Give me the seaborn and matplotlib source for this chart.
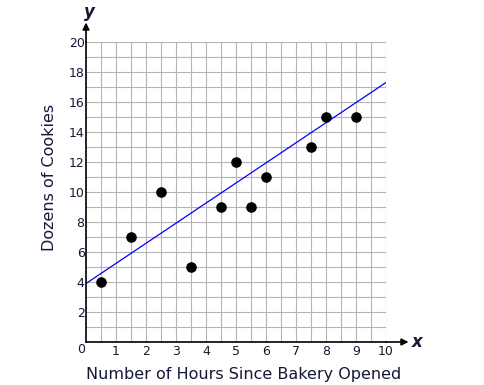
import matplotlib
matplotlib.use("Agg")
import matplotlib.pyplot as plt
import seaborn as sns
import numpy as np
import pandas as pd

# data
hours = [0.5, 1.5, 2.5, 3.5, 4.5, 5, 5.5, 6, 7.5, 8, 9]
dozens = [4, 7, 10, 5, 9, 12, 9, 11, 13, 15, 15]
fit_x = [0, 10]
fit_y = [3.9, 17.3]
x_ticks = [1, 2, 3, 4, 5, 6, 7, 8, 9, 10]
y_ticks = [2, 4, 6, 8, 10, 12, 14, 16, 18, 20]

sns.set_style("white")
plt.rcParams["font.family"] = ["DejaVu Sans"]

text_color = "#141836"

fig = plt.figure(figsize=(4.84, 3.85), dpi=100)
ax = fig.add_axes([86 / 484, 43 / 385, 300 / 484, 300 / 385])

df = pd.DataFrame({"hours": hours, "dozens": dozens})

# grid: one line every half hour and every dozen
for gx in np.arange(0.5, 10.01, 0.5):
    ax.axvline(gx, color="#b4b4b4", linewidth=0.8, zorder=0)
for gy in np.arange(1, 20.01, 1):
    ax.axhline(gy, color="#b4b4b4", linewidth=0.8, zorder=0)

sns.lineplot(x=fit_x, y=fit_y, color="#0000ff", linewidth=0.9, ax=ax, zorder=3)
sns.scatterplot(data=df, x="hours", y="dozens", color="black", s=58,
                edgecolor="black", linewidth=0, ax=ax, zorder=4)

ax.set_xlim(0, 10)
ax.set_ylim(0, 20)
ax.set_xticks(x_ticks)
ax.set_yticks(y_ticks)
ax.set_xticklabels([str(t) for t in x_ticks], fontsize=9, color=text_color)
ax.set_yticklabels([str(t) for t in y_ticks], fontsize=9, color=text_color)
ax.tick_params(axis="x", length=0, pad=2)
ax.tick_params(axis="y", length=0, pad=1)

for s in ["top", "right"]:
    ax.spines[s].set_visible(False)
for s in ["left", "bottom"]:
    ax.spines[s].set_color("black")
    ax.spines[s].set_linewidth(1.2)
    ax.spines[s].set_zorder(5)

# axis arrows
ax.annotate("", xy=(10.75, 0), xytext=(10, 0), xycoords="data",
            arrowprops=dict(arrowstyle="-|>", color="black", lw=1.2,
                            mutation_scale=10, shrinkA=0, shrinkB=0),
            annotation_clip=False)
ax.annotate("", xy=(0, 21.3), xytext=(0, 20), xycoords="data",
            arrowprops=dict(arrowstyle="-|>", color="black", lw=1.2,
                            mutation_scale=10, shrinkA=0, shrinkB=0),
            annotation_clip=False)
ax.text(11.05, 0, "x", fontsize=12, fontweight="bold", style="italic",
        ha="center", va="center", color=text_color)
ax.text(0.1, 22.0, "y", fontsize=12, fontweight="bold", style="italic",
        ha="center", va="center", color=text_color)
ax.text(-0.15, -0.5, "0", fontsize=9, ha="center", va="center", color=text_color)

ax.set_xlabel("Number of Hours Since Bakery Opened", fontsize=11.5,
              color=text_color)
ax.set_ylabel("Dozens of Cookies", fontsize=11.5, color=text_color)
ax.xaxis.set_label_coords(0.525, -0.085)
ax.yaxis.set_label_coords(-0.097, 0.547)

fig.savefig("out.png", dpi=100)
